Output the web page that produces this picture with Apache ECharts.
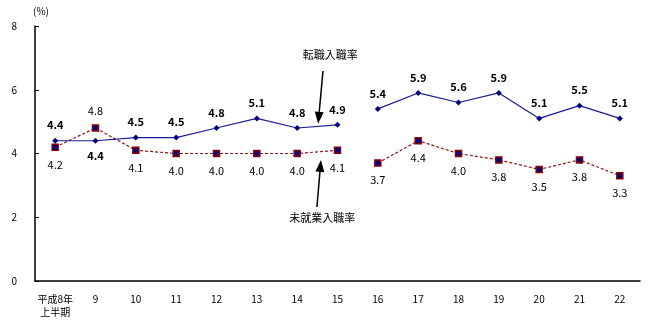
<!DOCTYPE html>
<html><head><meta charset="utf-8">
<script src="https://cdn.jsdelivr.net/npm/echarts@6/dist/echarts.min.js"></script>
<style>html,body{margin:0;padding:0;background:#fff}#c{width:648px;height:323px}</style>
</head><body><div id="c"></div>
<script>
const categories = ['平成8年\n上半期','9','10','11','12','13','14','15','16','17','18','19','20','21','22'];
const tenshoku = [4.4,4.4,4.5,4.5,4.8,5.1,4.8,4.9,5.4,5.9,5.6,5.9,5.1,5.5,5.1];
const mishugyo = [4.2,4.8,4.1,4.0,4.0,4.0,4.0,4.1,3.7,4.4,4.0,3.8,3.5,3.8,3.3];
const yTicks = [0,2,4,6,8];
const breakAt = 8; // lines not joined between 15 and 16
const tenshokuLabelBelow = [1];
const mishugyoLabelAbove = [1];

const FONT = '"Noto Sans CJK JP", sans-serif';
function seg(arr, from, to, special, specialPos) {
  return arr.map((v, i) => {
    if (i < from || i >= to) return null;
    const o = {value: v};
    if (special.includes(i)) o.label = {position: specialPos};
    return o;
  });
}
const blueStyle = {
  type: 'line', symbol: 'diamond', symbolSize: 6, z: 3,
  lineStyle: {color: '#1a1a9a', width: 1.2},
  itemStyle: {color: '#000080'},
  label: {show: true, position: 'top', distance: 7, fontFamily: FONT, fontSize: 11, fontWeight: 'bold', color: '#000', formatter: p => p.value.toFixed(1)},
  emphasis: {disabled: true}, animation: false
};
const redStyle = {
  type: 'line', symbol: 'rect', symbolSize: 6, z: 2,
  lineStyle: {color: '#8b1a1a', width: 1.2, type: [3, 2]},
  itemStyle: {color: '#000080', borderColor: '#8b0000', borderWidth: 1.5},
  label: {show: true, position: 'bottom', distance: 8, fontFamily: FONT, fontSize: 11, color: '#000', formatter: p => p.value.toFixed(1)},
  emphasis: {disabled: true}, animation: false
};
const series = [
  Object.assign({name: '転職入職率', data: seg(tenshoku, 0, breakAt, tenshokuLabelBelow, 'bottom')}, blueStyle),
  Object.assign({name: '転職入職率', data: seg(tenshoku, breakAt, tenshoku.length, tenshokuLabelBelow, 'bottom')}, blueStyle),
  Object.assign({name: '未就業入職率', data: seg(mishugyo, 0, breakAt, mishugyoLabelAbove, 'top')}, redStyle),
  Object.assign({name: '未就業入職率', data: seg(mishugyo, breakAt, mishugyo.length, mishugyoLabelAbove, 'top')}, redStyle)
];

const chart = echarts.init(document.getElementById('c'), null, {renderer: 'canvas'});
chart.setOption({
  animation: false,
  grid: {left: 35, right: 8, top: 26, bottom: 42},
  xAxis: {
    type: 'category', data: categories, boundaryGap: true,
    axisLine: {lineStyle: {color: '#000', width: 1.5}},
    axisTick: {show: false},
    axisLabel: {interval: 0, fontFamily: FONT, fontSize: 10, color: '#000', margin: 12, lineHeight: 13}
  },
  yAxis: {
    type: 'value', min: yTicks[0], max: yTicks[yTicks.length-1], interval: 2,
    name: '(%)', nameGap: 10, nameTextStyle: {fontFamily: FONT, fontSize: 10, color: '#000', align: 'center', padding: [0,0,0,12]},
    splitLine: {show: false},
    axisLine: {show: true, lineStyle: {color: '#000', width: 1.5}},
    axisTick: {show: true, inside: true, length: 4, lineStyle: {color: '#000'}},
    axisLabel: {fontFamily: FONT, fontSize: 10, color: '#000', margin: 18, formatter: v => String(v)}
  },
  series: series
});

// annotations placed in data coordinates (fractional category index interpolated)
const p0 = chart.convertToPixel({gridIndex: 0}, [0, 0]);
const p1 = chart.convertToPixel({gridIndex: 0}, [1, 1]);
function P(x, y) { return [p0[0] + (p1[0]-p0[0])*x, p0[1] + (p1[1]-p0[1])*y]; }
function arrow(from, to) {
  const a = P(from[0], from[1]), b = P(to[0], to[1]);
  const dx = b[0]-a[0], dy = b[1]-a[1], len = Math.hypot(dx, dy);
  const ux = dx/len, uy = dy/len, hl = 12, hw = 4.5;
  const bx = b[0]-ux*hl, by = b[1]-uy*hl;
  return [
    {type: 'line', shape: {x1: a[0], y1: a[1], x2: bx, y2: by}, style: {stroke: '#000', lineWidth: 1.5}},
    {type: 'polygon', shape: {points: [[b[0], b[1]], [bx - uy*hw, by + ux*hw], [bx + uy*hw, by - ux*hw]]}, style: {fill: '#000'}}
  ];
}
const t1 = P(6.82, 7.09), t2 = P(6.62, 1.98);
chart.setOption({graphic: [
  ...arrow([6.64, 6.59], [6.52, 4.93]),
  ...arrow([6.49, 2.32], [6.59, 3.80]),
  {type: 'text', x: t1[0], y: t1[1], style: {text: '転職入職率', font: '11px ' + FONT, fill: '#000', textAlign: 'center', textVerticalAlign: 'middle'}},
  {type: 'text', x: t2[0], y: t2[1], style: {text: '未就業入職率', font: '11px ' + FONT, fill: '#000', textAlign: 'center', textVerticalAlign: 'middle'}}
]});
</script></body></html>
